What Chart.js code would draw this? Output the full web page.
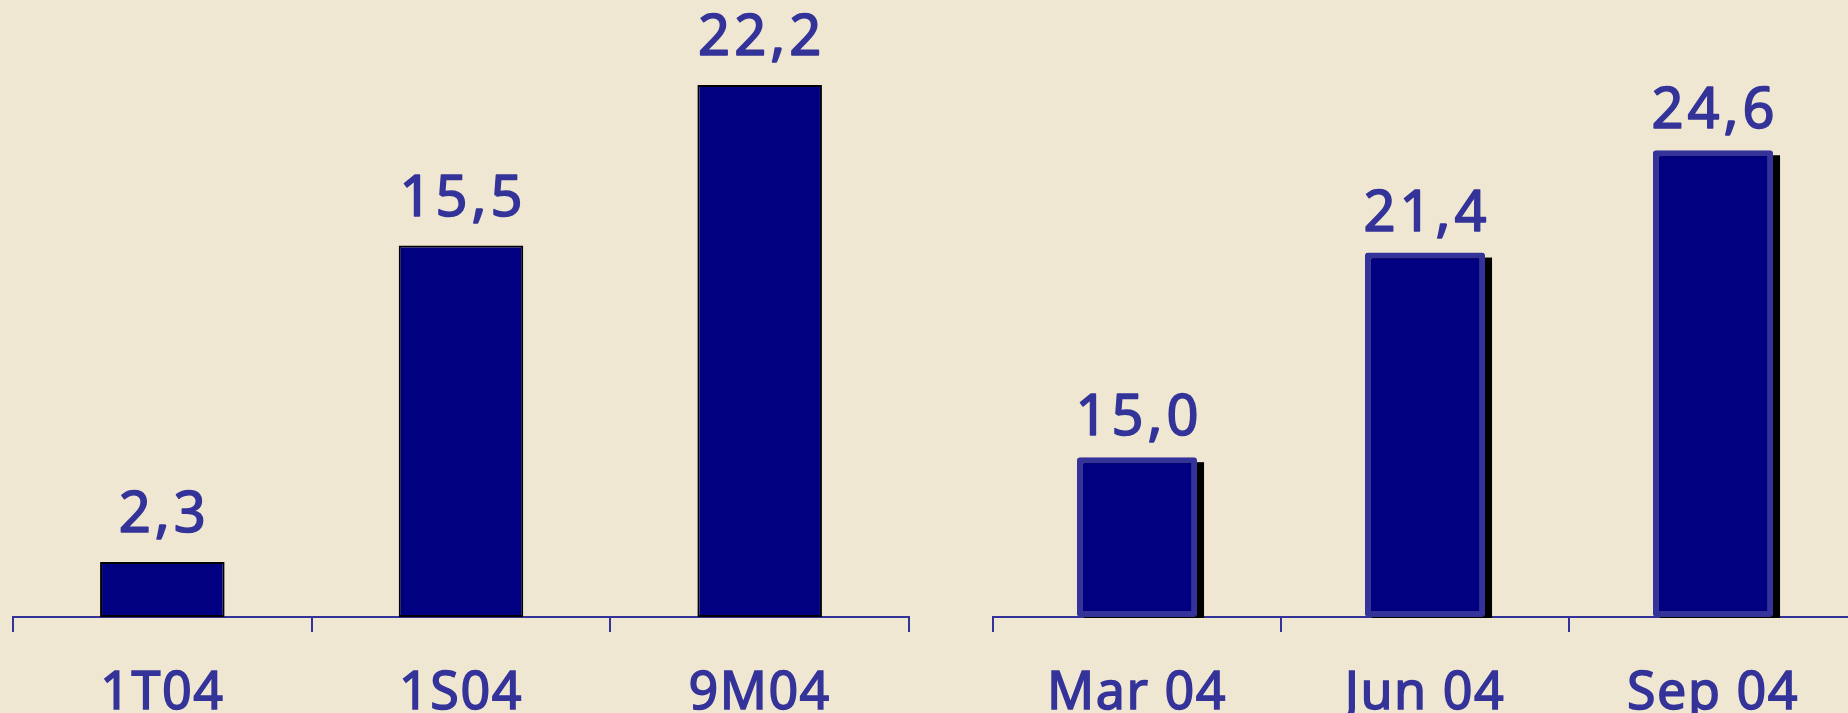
<!DOCTYPE html>
<html>
<head>
<meta charset="utf-8">
<script src="https://cdn.jsdelivr.net/npm/chart.js@4.4.1/dist/chart.umd.min.js"></script>
<style>
  html, body { margin: 0; padding: 0; background: #F0E7D2; overflow: hidden; width: 1848px; height: 713px; }
  canvas { position: absolute; top: 0; }
  #left-canvas { left: 0; }
  #right-canvas { left: 980px; }
</style>
</head>
<body>
<canvas id="left-canvas" width="922" height="713"></canvas>
<canvas id="right-canvas" width="890" height="713"></canvas>
<script>
// data
const leftCategories  = ["1T04", "1S04", "9M04"];
const leftValues      = [2.3, 15.5, 22.2];
const rightCategories = ["Mar 04", "Jun 04", "Sep 04"];
const rightValues     = [15.0, 21.4, 24.6];

const TEXT = "#333399";
const FONT = "'Noto Sans', sans-serif";

const fmt = v => v.toFixed(1).replace(".", ",");

// value labels above bars (regular face thickened with a thin stroke)
function valueLabels(gap) {
  return {
    id: "valueLabels",
    beforeDraw(chart) { chart.ctx.letterSpacing = "1.5px"; },
    afterDatasetsDraw(chart) {
      const { ctx } = chart;
      const meta = chart.getDatasetMeta(0);
      const data = chart.data.datasets[0].data;
      ctx.save();
      ctx.letterSpacing = "4px";
      ctx.fillStyle = TEXT;
      ctx.strokeStyle = TEXT;
      ctx.lineWidth = 1.6;
      ctx.lineJoin = "round";
      ctx.font = `56px ${FONT}`;
      ctx.textAlign = "center";
      ctx.textBaseline = "alphabetic";
      meta.data.forEach((bar, i) => {
        ctx.fillText(fmt(data[i]), bar.x + 2, bar.y - gap);
        ctx.strokeText(fmt(data[i]), bar.x + 2, bar.y - gap);
      });
      ctx.restore();
    },
    afterDraw(chart) { chart.ctx.letterSpacing = "0px"; }
  };
}

// black drop shadow behind right-hand bars
const barShadow = {
  id: "barShadow",
  beforeDatasetsDraw(chart) {
    const { ctx } = chart;
    const meta = chart.getDatasetMeta(0);
    ctx.save();
    ctx.fillStyle = "#000000";
    meta.data.forEach(bar => {
      const x0 = bar.x - bar.width / 2 + 7;
      ctx.fillRect(x0, bar.y + 5, bar.width, bar.base - bar.y - 4);
    });
    ctx.restore();
  }
};

function makeChart(id, labels, values, yMin, yMax, bar, extraPlugins) {
  return new Chart(document.getElementById(id), {
    type: "bar",
    data: {
      labels,
      datasets: [{
        data: values,
        base: yMin,
        backgroundColor: "#000080",
        borderColor: bar.borderColor,
        borderWidth: bar.borderWidth,
        borderRadius: bar.borderRadius,
        borderSkipped: false,
        barPercentage: 0.417,
        categoryPercentage: 1,
      }]
    },
    options: {
      responsive: false,
      animation: false,
      layout: { padding: { left: 13, right: 13, top: 0, bottom: 0 } },
      plugins: { legend: { display: false }, tooltip: { enabled: false } },
      scales: {
        x: {
          grid: {
            drawOnChartArea: false,
            drawTicks: true,
            tickLength: 15,
            color: TEXT,
            lineWidth: 2,
            offset: true,
          },
          border: { color: TEXT, width: 2 },
          ticks: {
            color: TEXT,
            font: { family: FONT, size: 52 },
            textStrokeColor: TEXT,
            textStrokeWidth: 1.5,
            padding: 31,
            maxRotation: 0,
            autoSkip: false,
          },
          afterFit(scale) { scale.height = 96; },
        },
        y: { display: false, min: yMin, max: yMax },
      }
    },
    plugins: [valueLabels(bar.gap), ...extraPlugins],
  });
}

makeChart("left-canvas", leftCategories, leftValues, 0, 25.75,
  { borderColor: "#000000", borderWidth: 2, borderRadius: 0, gap: 30 }, []);

makeChart("right-canvas", rightCategories, rightValues, 10, 29.3,
  { borderColor: "#333399", borderWidth: 6, borderRadius: 3, gap: 22 }, [barShadow]);
</script>
</body>
</html>
